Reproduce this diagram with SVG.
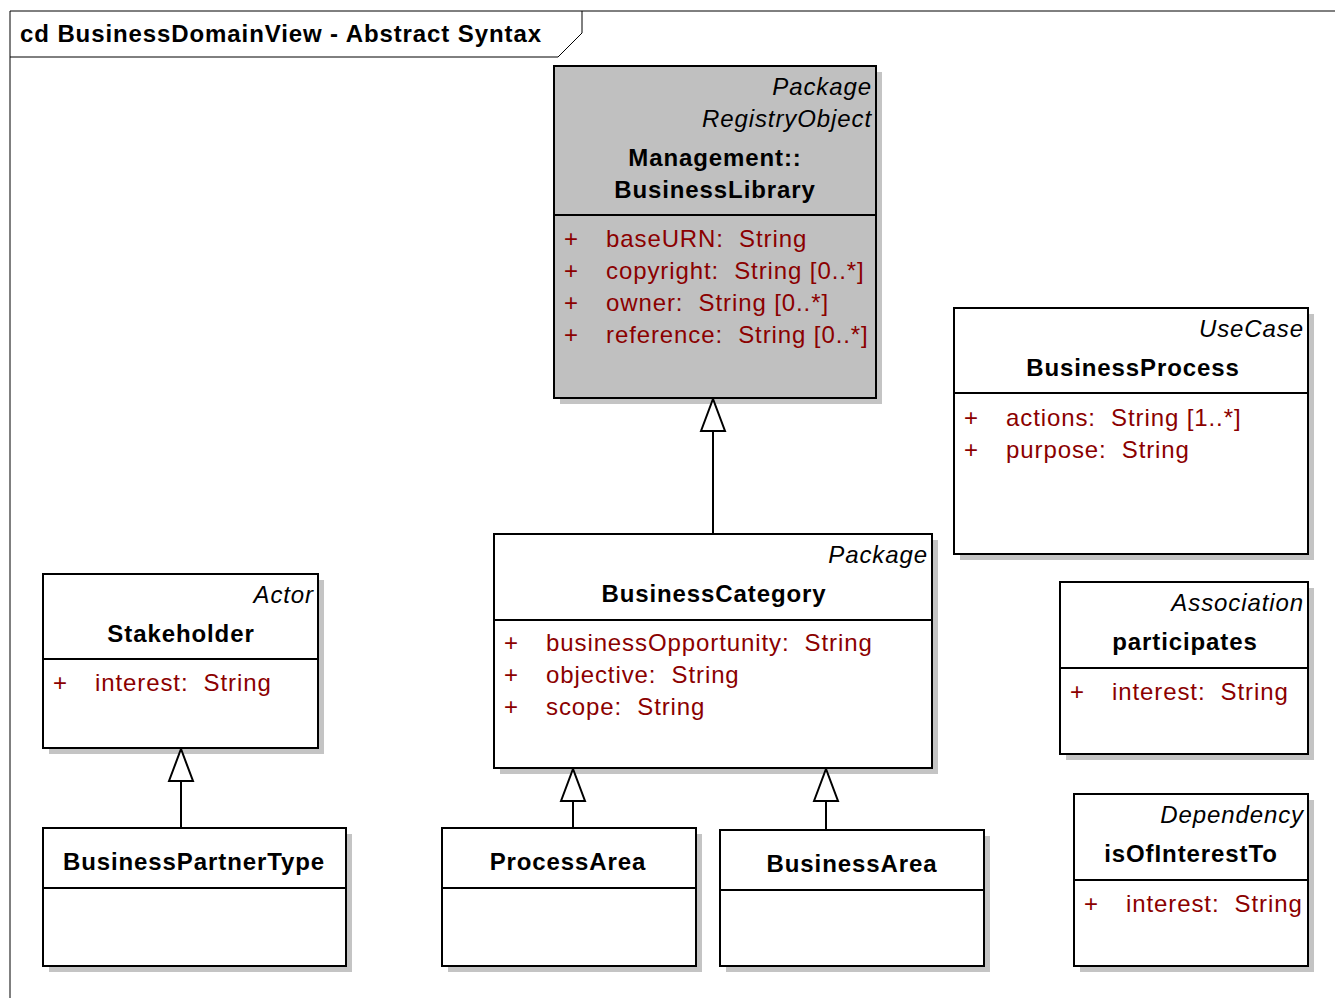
<svg xmlns="http://www.w3.org/2000/svg" width="1335" height="998" viewBox="0 0 1335 998">
<defs>
<style>
text{font-family:"Liberation Sans",Arial,sans-serif;font-size:24px;letter-spacing:0.9px;fill:#000;white-space:pre}
.st{font-style:italic;text-anchor:end}
.nm{font-weight:bold;text-anchor:middle}
.at{fill:#8B0000}
.box{fill:#fff;stroke:#000;stroke-width:2}
.gbox{fill:#C0C0C0;stroke:#000;stroke-width:2}
.sh{fill:#C4C4C4}
.dv{stroke:#000;stroke-width:2}
.cn{stroke:#000;stroke-width:2;fill:none;marker-end:url(#gen)}
</style>
<marker id="gen" markerUnits="userSpaceOnUse" markerWidth="36" markerHeight="28" viewBox="-2 -2 36 28" refX="32" refY="12" orient="auto">
<path d="M0,0 L32,12 L0,24 Z" fill="#fff" stroke="#000" stroke-width="2"/>
</marker>
</defs>
<rect width="1335" height="998" fill="#fff"/>
<g id="frame">
<path d="M10,998 L10,11 L1335,11" fill="none" stroke="#000" stroke-width="1"/>
<path d="M10,57 L558,57 L582,33 L582,11" fill="none" stroke="#000" stroke-width="1"/>
<text x="20" y="42" style="font-weight:bold">cd BusinessDomainView - Abstract Syntax</text>
</g>
<g id="BusinessLibrary">
<rect class="sh" x="560" y="72" width="322" height="332"/>
<rect class="gbox" x="554" y="66" width="322" height="332"/>
<line class="dv" x1="554" y1="215" x2="876" y2="215"/>
<text class="st" x="872" y="95">Package</text>
<text class="st" x="872" y="127">RegistryObject</text>
<text class="nm" x="715" y="166">Management::</text>
<text class="nm" x="715" y="198">BusinessLibrary</text>
<text class="at" x="564" y="247">+</text><text class="at" x="606" y="247" xml:space="preserve">baseURN:  String</text>
<text class="at" x="564" y="279">+</text><text class="at" x="606" y="279" xml:space="preserve">copyright:  String [0..*]</text>
<text class="at" x="564" y="311">+</text><text class="at" x="606" y="311" xml:space="preserve">owner:  String [0..*]</text>
<text class="at" x="564" y="343">+</text><text class="at" x="606" y="343" xml:space="preserve">reference:  String [0..*]</text>
</g>
<g id="BusinessCategory">
<rect class="sh" x="500" y="540" width="438" height="234"/>
<rect class="box" x="494" y="534" width="438" height="234"/>
<line class="dv" x1="494" y1="620" x2="932" y2="620"/>
<text class="st" x="928" y="563">Package</text>
<text class="nm" x="714" y="602">BusinessCategory</text>
<text class="at" x="504" y="651">+</text><text class="at" x="546" y="651" xml:space="preserve">businessOpportunity:  String</text>
<text class="at" x="504" y="683">+</text><text class="at" x="546" y="683" xml:space="preserve">objective:  String</text>
<text class="at" x="504" y="715">+</text><text class="at" x="546" y="715" xml:space="preserve">scope:  String</text>
</g>
<g id="BusinessProcess">
<rect class="sh" x="960" y="314" width="354" height="246"/>
<rect class="box" x="954" y="308" width="354" height="246"/>
<line class="dv" x1="954" y1="393" x2="1308" y2="393"/>
<text class="st" x="1304" y="337">UseCase</text>
<text class="nm" x="1133" y="376">BusinessProcess</text>
<text class="at" x="964" y="426">+</text><text class="at" x="1006" y="426" xml:space="preserve">actions:  String [1..*]</text>
<text class="at" x="964" y="458">+</text><text class="at" x="1006" y="458" xml:space="preserve">purpose:  String</text>
</g>
<g id="Stakeholder">
<rect class="sh" x="49" y="580" width="275" height="174"/>
<rect class="box" x="43" y="574" width="275" height="174"/>
<line class="dv" x1="43" y1="659" x2="318" y2="659"/>
<text class="st" x="314" y="603">Actor</text>
<text class="nm" x="181" y="642">Stakeholder</text>
<text class="at" x="53" y="691">+</text><text class="at" x="95" y="691" xml:space="preserve">interest:  String</text>
</g>
<g id="participates">
<rect class="sh" x="1066" y="588" width="248" height="172"/>
<rect class="box" x="1060" y="582" width="248" height="172"/>
<line class="dv" x1="1060" y1="668" x2="1308" y2="668"/>
<text class="st" x="1304" y="611">Association</text>
<text class="nm" x="1185" y="650">participates</text>
<text class="at" x="1070" y="700">+</text><text class="at" x="1112" y="700" xml:space="preserve">interest:  String</text>
</g>
<g id="isOfInterestTo">
<rect class="sh" x="1080" y="800" width="234" height="172"/>
<rect class="box" x="1074" y="794" width="234" height="172"/>
<line class="dv" x1="1074" y1="880" x2="1308" y2="880"/>
<text class="st" x="1304" y="823">Dependency</text>
<text class="nm" x="1191" y="862">isOfInterestTo</text>
<text class="at" x="1084" y="912">+</text><text class="at" x="1126" y="912" xml:space="preserve">interest:  String</text>
</g>
<g id="BusinessPartnerType">
<rect class="sh" x="49" y="834" width="303" height="138"/>
<rect class="box" x="43" y="828" width="303" height="138"/>
<line class="dv" x1="43" y1="888" x2="346" y2="888"/>
<text class="nm" x="194" y="870">BusinessPartnerType</text>
</g>
<g id="ProcessArea">
<rect class="sh" x="448" y="834" width="254" height="138"/>
<rect class="box" x="442" y="828" width="254" height="138"/>
<line class="dv" x1="442" y1="888" x2="696" y2="888"/>
<text class="nm" x="568" y="870">ProcessArea</text>
</g>
<g id="BusinessArea">
<rect class="sh" x="726" y="836" width="264" height="136"/>
<rect class="box" x="720" y="830" width="264" height="136"/>
<line class="dv" x1="720" y1="890" x2="984" y2="890"/>
<text class="nm" x="852" y="872">BusinessArea</text>
</g>
<g id="connectors">
<path class="cn" d="M713,534 L713,399"/>
<path class="cn" d="M181,828 L181,749"/>
<path class="cn" d="M573,828 L573,769"/>
<path class="cn" d="M826,830 L826,769"/>
</g>
</svg>
